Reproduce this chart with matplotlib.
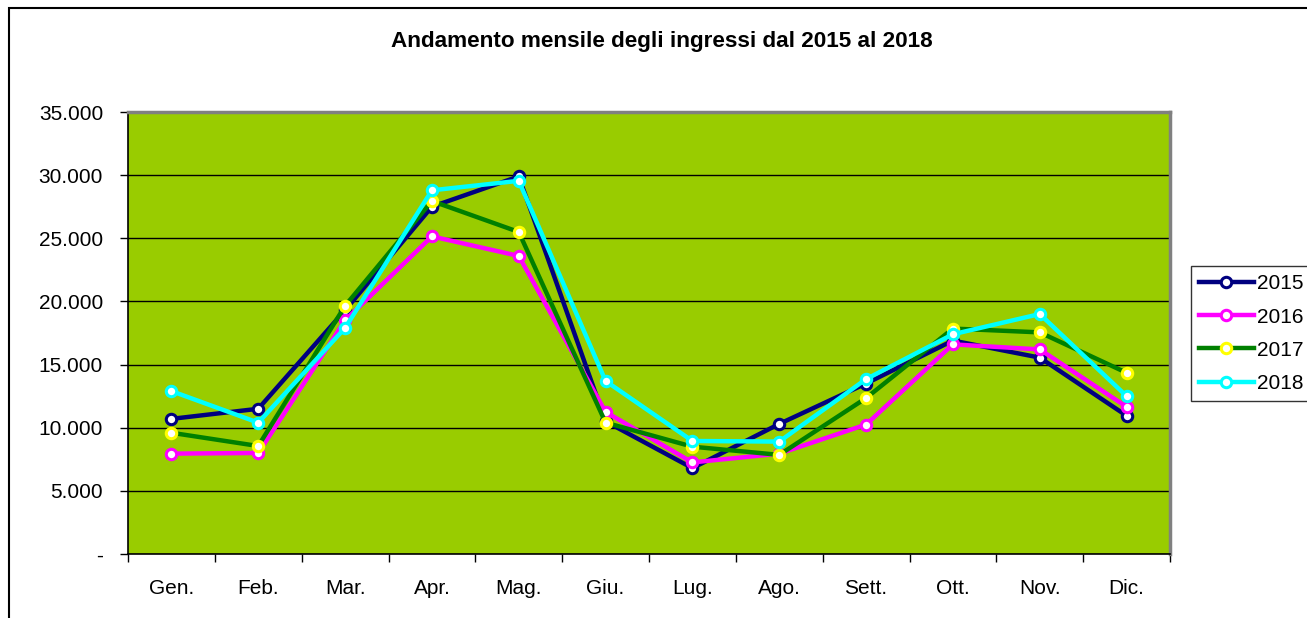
import matplotlib
matplotlib.use('Agg')
import matplotlib.pyplot as plt
from matplotlib.patches import Rectangle
from matplotlib.ticker import FuncFormatter, FixedLocator
import numpy as np

plt.rcParams['font.family'] = ['Liberation Sans', 'DejaVu Sans']

# dati
mesi = ['Gen.', 'Feb.', 'Mar.', 'Apr.', 'Mag.', 'Giu.',
        'Lug.', 'Ago.', 'Sett.', 'Ott.', 'Nov.', 'Dic.']
ingressi_2015 = [10700, 11500, 19300, 27500, 29900, 10500, 6800, 10300, 13500, 16900, 15550, 10950]
ingressi_2016 = [7950, 8000, 18500, 25150, 23600, 11250, 7250, 7950, 10250, 16600, 16200, 11650]
ingressi_2017 = [9600, 8550, 19650, 27950, 25500, 10400, 8500, 7850, 12350, 17850, 17550, 14350]
ingressi_2018 = [12900, 10400, 17900, 28800, 29550, 13700, 8950, 8900, 13850, 17400, 19000, 12500]
anni = ['2015', '2016', '2017', '2018']

serie = [ingressi_2015, ingressi_2016, ingressi_2017, ingressi_2018]
colori_linea = ['#000080', '#FF00FF', '#008000', '#00FFFF']
colori_bordo = ['#000080', '#FF00FF', '#FFFF00', '#00FFFF']

fig = plt.figure(figsize=(13.07, 6.18), dpi=100)
ax = fig.add_axes([128 / 1307, 1 - 554 / 618, (1170 - 128) / 1307, (554 - 112) / 618])

# bordo esterno del grafico (solo sopra e a sinistra visibili)
fig.patches.append(Rectangle((9 / 1307, -0.1), 1.2, 1.1 - 8 / 618,
                             transform=fig.transFigure, fill=False,
                             edgecolor='black', linewidth=1.5))

ax.set_facecolor('#99CC00')
x = np.arange(len(mesi)) + 0.5

for valori, anno, cl, cb in zip(serie, anni, colori_linea, colori_bordo):
    ax.plot(x, valori, color=cl, linewidth=3.2, marker='o', markersize=7.5,
            markerfacecolor='white', markeredgecolor=cb, markeredgewidth=2.2,
            label=anno, clip_on=False)

ax.set_xlim(0, 12)
ax.set_ylim(0, 35000)
ax.set_yticks(np.arange(0, 35001, 5000))
ax.yaxis.set_major_formatter(FuncFormatter(
    lambda v, p: '-' if v == 0 else f'{int(v):,}'.replace(',', '.')))
ax.grid(axis='y', color='black', linewidth=1)
ax.set_axisbelow(True)

# tick ai confini delle categorie, etichette al centro
ax.xaxis.set_major_locator(FixedLocator(np.arange(0, 13)))
ax.xaxis.set_minor_locator(FixedLocator(x))
ax.set_xticklabels([])
ax.set_xticklabels(mesi, minor=True)
ax.tick_params(axis='x', which='major', length=6, width=1, direction='out')
ax.tick_params(axis='x', which='minor', length=0, pad=18, labelsize=15)
ax.tick_params(axis='y', length=6, width=1, direction='out', pad=12, labelsize=15)

for s in ['top', 'right']:
    ax.spines[s].set_color('#808080')
    ax.spines[s].set_linewidth(2.5)
for s in ['left', 'bottom']:
    ax.spines[s].set_color('black')
    ax.spines[s].set_linewidth(1.2)

fig.text(662 / 1307, 1 - 42 / 618, 'Andamento mensile degli ingressi dal 2015 al 2018',
         ha='center', va='center', fontsize=16.2, fontweight='bold')

leg = fig.legend(loc='upper left', bbox_to_anchor=(1191 / 1307, 1 - 266 / 618),
                 fontsize=15, handlelength=2.6, handletextpad=0.15,
                 labelspacing=0.68, borderpad=0.4, borderaxespad=0,
                 fancybox=False, frameon=True)
leg.get_frame().set_edgecolor('black')
leg.get_frame().set_linewidth(1)

plt.savefig('out.png', dpi=100, facecolor='white')
